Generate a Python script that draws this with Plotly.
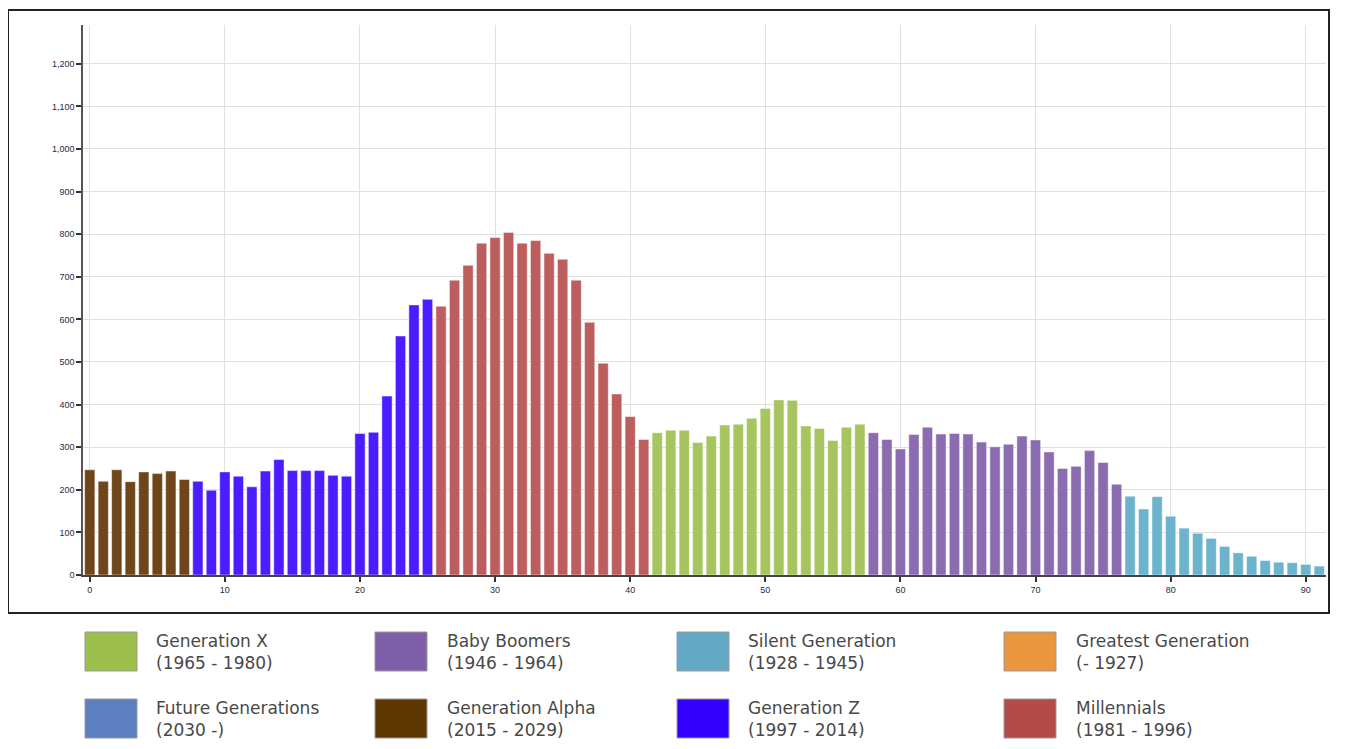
import plotly.graph_objects as go

# ---------------- data ----------------
ages = list(range(92))
population = [
    # Generation Alpha (0-7)
    247, 220, 247, 219, 242, 238, 244, 224,
    # Generation Z (8-25)
    220, 199, 242, 232, 207, 244, 271, 245, 245, 245, 234, 232, 332, 335, 420, 561, 634, 647,
    # Millennials (26-41)
    631, 692, 727, 779, 792, 804, 779, 785, 755, 741, 692, 593, 497, 425, 372, 318,
    # Generation X (42-57)
    334, 340, 340, 311, 326, 352, 354, 368, 391, 411, 410, 350, 344, 316, 347, 354,
    # Baby Boomers (58-76)
    334, 318, 296, 330, 347, 331, 332, 331, 312, 301, 307, 326, 317, 289, 250, 255, 292, 264, 213,
    # Silent Generation (77-91)
    185, 155, 184, 138, 110, 98, 86, 67, 52, 44, 34, 30, 29, 25, 21,
]

gen_names = ["Generation X", "Baby Boomers", "Silent Generation", "Greatest Generation",
             "Future Generations", "Generation Alpha", "Generation Z", "Millennials"]
gen_years = ["(1965 - 1980)", "(1946 - 1964)", "(1928 - 1945)", "(- 1927)",
             "(2030 -)", "(2015 - 2029)", "(1997 - 2014)", "(1981 - 1996)"]
gen_colors = ["#9CBF4B", "#7F5FA8", "#62A8C4", "#EA963E",
              "#5B7FC0", "#5E3700", "#3300FF", "#B34B4B"]
# age span of each generation (None = not present)
gen_age_first = [42, 58, 77, None, None, 0, 8, 26]
gen_age_last = [57, 76, 91, None, None, 7, 25, 41]
bar_colors = ["#A6C55F", "#8B6CB0", "#6CB3CE", "#EA963E",
              "#5B7FC0", "#6E4619", "#4A1CFF", "#BC5E5E"]

y_ticks = list(range(0, 1300, 100))
x_ticks = list(range(0, 100, 10))

# ---------------- figure ----------------
OFF = 8  # page body margin
W, H = 1349 - OFF, 749 - OFF
ML, MR, MT, MB = 83 - OFF, 23, 25 - OFF, 174
PW, PH = W - ML - MR, H - MT - MB


def px_x(p):
    return (p - OFF - ML) / PW


def px_y(p):
    return 1 - (p - OFF - MT) / PH


fig = go.Figure()
for name, first, last, col in zip(gen_names, gen_age_first, gen_age_last, bar_colors):
    if first is None:
        continue
    xs = ages[first:last + 1]
    ys = population[first:last + 1]
    fig.add_trace(go.Bar(
        x=xs, y=ys, name=name,
        marker=dict(color=col, line=dict(color="rgba(255,255,255,0.8)", width=0.6)),
        showlegend=False,
    ))

shapes = []
annotations = []
# outer frame
shapes.append(dict(type="rect", xref="paper", yref="paper",
                   x0=px_x(8), x1=px_x(1329), y0=px_y(613), y1=px_y(10),
                   line=dict(color="#222222", width=2), layer="above"))

# custom legend
swatch_x = [85, 375, 677, 1004]
text_x = [154, 445, 746, 1074]
row_top = [632, 699]
for i, (name, yrs, col) in enumerate(zip(gen_names, gen_years, gen_colors)):
    r, c = divmod(i, 4)
    top = row_top[r]
    shapes.append(dict(type="rect", xref="paper", yref="paper",
                       x0=px_x(swatch_x[c]), x1=px_x(swatch_x[c] + 52),
                       y0=px_y(top + 39), y1=px_y(top),
                       fillcolor=col, line=dict(color="#9a9a9a", width=1)))
    annotations.append(dict(xref="paper", yref="paper", x=px_x(text_x[c]), y=px_y(top - 3),
                            xanchor="left", yanchor="top", showarrow=False, align="left",
                            text=name + "<br>" + yrs,
                            font=dict(family="DejaVu Sans", size=17, color="#484848")))

fig.update_layout(
    width=W, height=H,
    margin=dict(l=ML, r=MR, t=MT, b=MB, autoexpand=False),
    paper_bgcolor="white", plot_bgcolor="white",
    barmode="overlay", bargap=0.24,
    separators=".,",
    shapes=shapes, annotations=annotations,
    font=dict(family="Liberation Sans, Arial", color="#333333"),
    xaxis=dict(range=[-0.5, 91.5], tickvals=x_ticks, showgrid=True, gridcolor="#e0e0e0",
               gridwidth=1, zeroline=False, showline=True, linecolor="#444444", linewidth=1.5,
               ticks="outside", ticklen=5, tickcolor="#333333", tickwidth=1.5,
               tickfont=dict(size=9, color="#2a2a40")),
    yaxis=dict(range=[0, 1291], tickvals=y_ticks, tickformat=",d", showgrid=True,
               gridcolor="#e0e0e0", gridwidth=1, zeroline=False, showline=True,
               linecolor="#555555", linewidth=1.5, ticks="outside", ticklen=5,
               tickcolor="#333333", tickwidth=1.5, tickfont=dict(size=9, color="#2a2a40")),
)

fig.write_html("out.html")
